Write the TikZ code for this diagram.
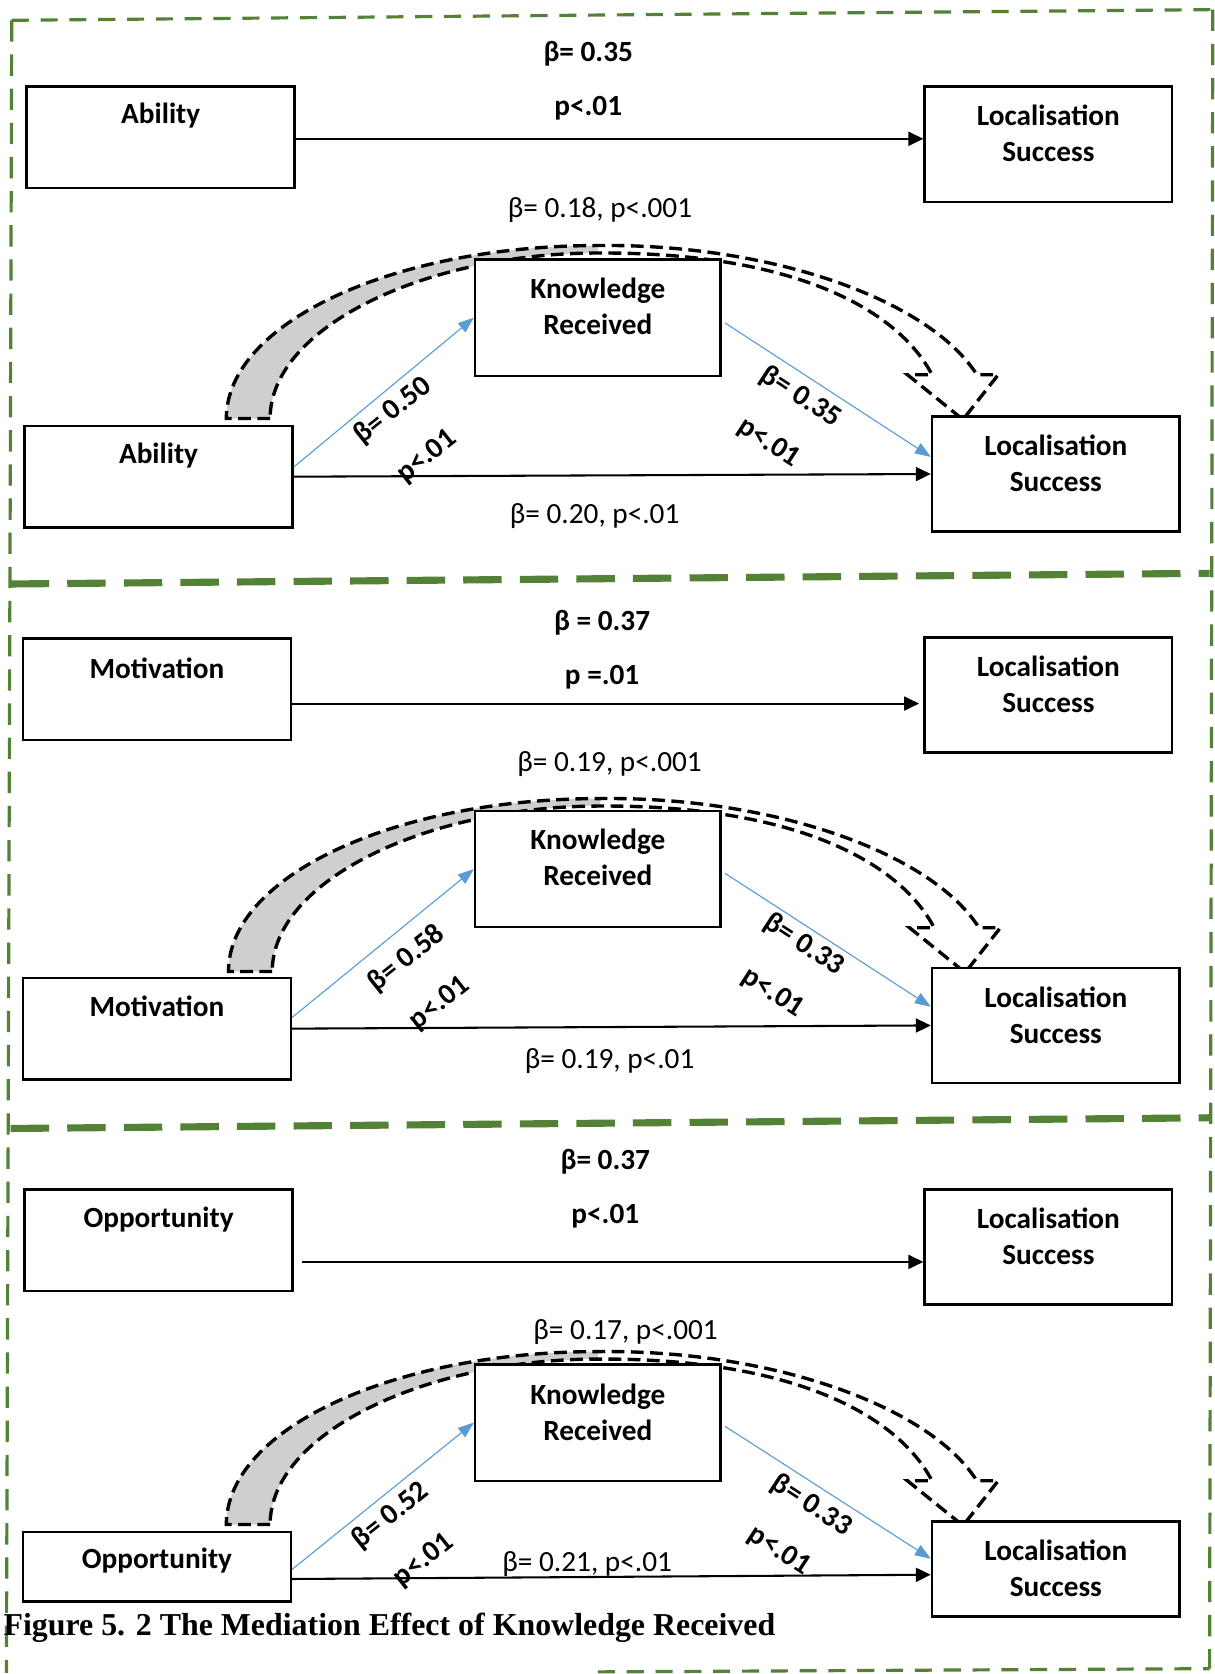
\documentclass[tikz,border=0pt]{standalone}
\usepackage{fontspec}
\setmainfont{Carlito}
\newfontfamily\capfont{Liberation Serif}
\usepackage{tikz}
\usetikzlibrary{arrows.meta,calc}
\definecolor{frame}{HTML}{538135}
\definecolor{kblue}{HTML}{5B9BD5}
\definecolor{band}{HTML}{CFCFCF}
\newcommand{\labsize}{\fontsize{15.6}{19.3}\selectfont}
\tikzset{
  every picture/.style={font=\labsize, line join=miter, >=Stealth},
  varbox/.style={draw, line width=1.3pt, fill=white, inner sep=0pt},
  predbox/.style={varbox, minimum width=5.02cm, minimum height=1.9cm},
  lsbox/.style={varbox, minimum width=4.64cm, minimum height=2.16cm},
  krbox/.style={varbox, minimum width=4.6cm, minimum height=2.18cm},
  boxtext/.style={font=\labsize\bfseries, align=center, inner sep=0pt},
  coef/.style={font=\labsize, inner sep=0pt},
  coefb/.style={font=\labsize\bfseries, inner sep=0pt},
  direct/.style={-{Triangle[length=0.28cm,width=0.26cm]}, line width=1.1pt},
  viakr/.style={-{Triangle[length=0.3cm,width=0.22cm]}, draw=kblue, line width=0.6pt},
  frameh/.style={draw=frame, line width=1.7pt, dash pattern=on 0.32cm off 0.22cm},
  framev/.style={draw=frame, line width=1.7pt, dash pattern=on 0.4cm off 0.24cm},
  divider/.style={draw=frame, line width=3.8pt, dash pattern=on 0.72cm off 0.34cm},
  bandline/.style={draw=black, line width=1.8pt, dash pattern=on 0.24cm off 0.12cm},
  medarc/.pic={
    \fill[band] (212,392) .. controls (212,302.6) and (368,230) .. (560,230)
      -- (560,237) .. controls (400,237) and (253,306) .. (253,392) -- cycle;
    \draw[bandline] (253,392) -- (212,392)
      .. controls (212,302.6) and (368,230) .. (560,230)
      .. controls (720,228) and (870,280) .. (915,351)
      -- (935,351) -- (902,393) -- (850,351) -- (873,351)
      .. controls (840,288) and (740,236) .. (560,237)
      .. controls (400,237) and (253,306) .. (253,392);
  },
}

\begin{document}
\begin{tikzpicture}[x=0.02cm,y=-0.02cm]
\useasboundingbox (0,0) rectangle (1138,1568);
% green frame and panel dividers
\draw[frameh] (11,19) -- (1136,9);
\draw[framev] (11,19) -- (6,1567);
\draw[framev] (1136,9) -- (1133,1563);
\draw[frameh] (560,1566) -- (1133,1563);
\draw[divider] (10,547) -- (1133,537);
\draw[divider] (10,1057) -- (1133,1047);
% indirect effect arcs
\pic at (0,0) {medarc};
\pic at (2,518) {medarc};
\pic at (0,1036) {medarc};

% panel 1: ability
\node[predbox] (abil1) at (150.5,128.5) {};
\node[lsbox] (ls1) at (982,135) {};
\node[krbox] (kr1) at (560,297.5) {};
\node[predbox] (abil2) at (148.5,446.5) {};
\node[lsbox] (ls2) at (989,444) {};
\node[boxtext] (abil1t) at ($(abil1.north)+(0,28)$) {Ability};
\node[boxtext] (ls1t) at ($(ls1.north)+(0,45)$) {Localisation\\Success};
\node[boxtext] (kr1t) at ($(kr1.north)+(0,45)$) {Knowledge\\Received};
\node[boxtext] (abil2t) at ($(abil2.north)+(0,29)$) {Ability};
\node[boxtext] (ls2t) at ($(ls2.north)+(0,45)$) {Localisation\\Success};
\draw[direct] ($(abil1.east)+(0,1.5)$) -- ($(ls1.west|-abil1.east)+(0,1.5)$);
\draw[viakr] ($(abil2.east)+(0,-9)$) -- (kr1.west);
\draw[viakr] ($(kr1.east)+(3,5)$) -- ($(ls2.west)+(0,-16)$);
\draw[direct] (abil2.east) -- (ls2.west);
\node[coefb] (c1b) at (551,50) {β= 0.35};
\node[coefb] (c1p) at (551,101) {p<.01};
\node[coef] (c1i) at (562,197) {β= 0.18, p<.001};
\node[coefb, rotate=38.5] (a1b) at (368,385) {β= 0.50};
\node[coefb, rotate=38.5] (a1p) at (400,428) {p<.01};
\node[coefb, rotate=-33] (k1b) at (750,372) {β= 0.35};
\node[coefb, rotate=-33] (k1p) at (720,415) {p<.01};
\node[coef] (d1) at (557,483) {β= 0.20, p<.01};

% panel 2: motivation
\node[predbox] (mot1) at (147,645.5) {};
\node[lsbox] (ls3) at (982,651) {};
\node[krbox] (kr2) at (560,814) {};
\node[predbox] (mot2) at (147,963.5) {};
\node[lsbox] (ls4) at (989,960.5) {};
\node[boxtext] (mot1t) at ($(mot1.north)+(0,29)$) {Motivation};
\node[boxtext] (ls3t) at ($(ls3.north)+(0,45)$) {Localisation\\Success};
\node[boxtext] (kr2t) at ($(kr2.north)+(0,45)$) {Knowledge\\Received};
\node[boxtext] (mot2t) at ($(mot2.north)+(0,28)$) {Motivation};
\node[boxtext] (ls4t) at ($(ls4.north)+(0,46)$) {Localisation\\Success};
\draw[direct, shorten >=0.08cm] ($(mot1.east)+(0,13.5)$) -- ($(ls3.west|-mot1.east)+(0,13.5)$);
\draw[viakr] ($(mot2.east)+(0,-10.5)$) -- (kr2.west);
\draw[viakr] ($(kr2.east)+(3,4)$) -- ($(ls4.west)+(0,-17.5)$);
\draw[direct] (mot2.east) -- (ls4.west);
\node[coefb] (c2b) at (564,583) {β = 0.37};
\node[coefb] (c2p) at (564,634) {p =.01};
\node[coef] (c2i) at (571,716) {β= 0.19, p<.001};
\node[coefb, rotate=38.5] (a2b) at (381,898) {β= 0.58};
\node[coefb, rotate=38.5] (a2p) at (412,940) {p<.01};
\node[coefb, rotate=-33] (k2b) at (753,885) {β= 0.33};
\node[coefb, rotate=-33] (k2p) at (724,930) {p<.01};
\node[coef] (d2) at (571,994) {β= 0.19, p<.01};

% panel 3: opportunity
\node[predbox] (opp1) at (148.5,1161.5) {};
\node[lsbox] (ls5) at (982,1168) {};
\node[krbox] (kr3) at (560,1332.5) {};
\node[predbox, minimum height=1.3cm] (opp2) at (147,1467.5) {};
\node[lsbox, minimum height=1.78cm] (ls6) at (989,1469.5) {};
\node[boxtext] (opp1t) at ($(opp1.north)+(0,29)$) {Opportunity};
\node[boxtext] (ls5t) at ($(ls5.north)+(0,45.5)$) {Localisation\\Success};
\node[boxtext] (kr3t) at ($(kr3.north)+(0,46)$) {Knowledge\\Received};
\node[boxtext] (opp2t) at ($(opp2.north)+(0,28)$) {Opportunity};
\node[boxtext] (ls6t) at ($(ls6.north)+(0,45)$) {Localisation\\Success};
\draw[direct, shorten <=0.16cm] ($(opp1.east)+(0,20.5)$) -- ($(ls5.west|-opp1.east)+(0,20.5)$);
\draw[viakr] ($(opp2.east)+(0,2.5)$) -- (kr3.west);
\draw[viakr] ($(kr3.east)+(3,3.5)$) -- ($(ls6.west)+(0,-9.5)$);
\draw[direct] ($(opp2.east)+(0,11.5)$) -- ($(ls6.west)+(0,5.5)$);
\node[coefb] (c3b) at (567,1088) {β= 0.37};
\node[coefb] (c3p) at (567,1139) {p<.01};
\node[coef] (c3i) at (586,1248) {β= 0.17, p<.001};
\node[coefb, rotate=38.5] (a3b) at (366,1420) {β= 0.52};
\node[coefb, rotate=38.5] (a3p) at (397,1462) {p<.01};
\node[coefb, rotate=-33] (k3b) at (760,1410) {β= 0.33};
\node[coefb, rotate=-33] (k3p) at (730,1453) {p<.01};
\node[coef] (d3) at (550,1465) {β= 0.21, p<.01};

\node[anchor=west, inner sep=0pt, font=\capfont\fontsize{17}{20}\selectfont\bfseries] (caption) at (3,1525) {Figure 5. 2 The Mediation Effect of Knowledge Received};
\end{tikzpicture}
\end{document}
